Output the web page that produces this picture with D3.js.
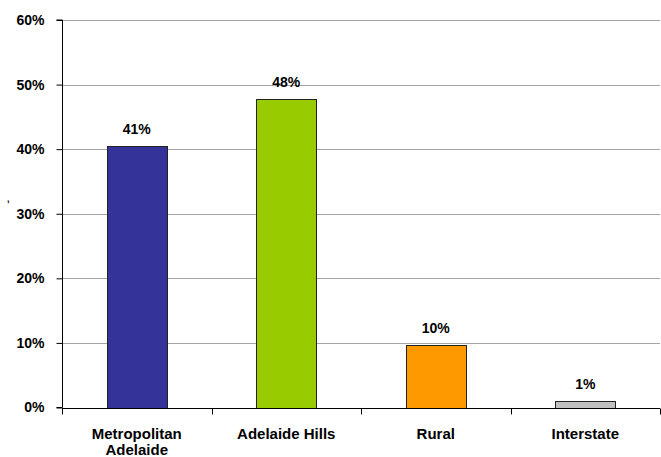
<!DOCTYPE html>
<html><head><meta charset="utf-8">
<script src="https://cdn.jsdelivr.net/npm/d3@7"></script>
<style>body{margin:0;background:#fff}svg{display:block}text{font-family:Arial,"Liberation Sans",sans-serif;font-weight:bold;fill:#000}</style>
</head><body><svg id="c" width="661" height="457"></svg>
<script>
const categories = [["Metropolitan","Adelaide"],["Adelaide Hills"],["Rural"],["Interstate"]];
const values = [40.5, 47.7, 9.7, 1.0];
const valueLabels = ["41%","48%","10%","1%"];
const colors = ["#333399","#99CC00","#FF9900","#C0C0C0"];
const yTicks = [0,10,20,30,40,50,60];

(function(){
const svg = d3.select("#c");
const mLeft = 62, mRight = 660, mTop = 20, mBottom = 407.5;
const x = d3.scaleBand().domain(d3.range(categories.length)).range([mLeft,mRight]).paddingInner(0).paddingOuter(0);
const y = d3.scaleLinear().domain([0,60]).range([mBottom,mTop]);

// gridlines
svg.append("g").selectAll("line").data(yTicks.filter(d=>d>0)).join("line")
  .attr("x1",mLeft).attr("x2",mRight).attr("y1",d=>Math.round(y(d))+0.5).attr("y2",d=>Math.round(y(d))+0.5)
  .attr("stroke","#a6a6a6").attr("stroke-width",1);

// bars
const bw = x.bandwidth()*0.4;
svg.append("g").selectAll("rect").data(values).join("rect")
  .attr("x",(d,i)=>Math.round(x(i)+x.bandwidth()/2-bw/2)+0.5)
  .attr("y",d=>Math.round(y(d))+0.5)
  .attr("width",Math.round(bw))
  .attr("height",d=>Math.round(y(0))-Math.round(y(d)))
  .attr("fill",(d,i)=>colors[i]).attr("stroke","#222").attr("stroke-width",1);

// value labels
svg.append("g").selectAll("text").data(values).join("text")
  .attr("x",(d,i)=>x(i)+x.bandwidth()/2).attr("y",d=>y(d)-12)
  .attr("text-anchor","middle").attr("font-size","14px").text((d,i)=>valueLabels[i]);

// y axis
const ya = svg.append("g").attr("transform",`translate(${mLeft+0.5},0)`)
  .call(d3.axisLeft(y).tickValues(yTicks).tickFormat(d=>d+"%").tickSize(6).tickPadding(12));
ya.select(".domain").attr("stroke","#000").attr("d",`M-6,${mTop}H0V${mBottom}H-6`);
ya.selectAll(".tick line").attr("stroke","#000");
ya.selectAll(".tick text").attr("font-size","14px").attr("font-family","Arial, 'Liberation Sans', sans-serif").attr("font-weight","bold").attr("fill","#000");

// x axis
const xa = svg.append("g").attr("transform",`translate(0,${Math.round(mBottom)+0.5})`);
xa.append("line").attr("x1",mLeft).attr("x2",mRight).attr("stroke","#000");
const bounds = d3.range(categories.length+1).map(i=> i<categories.length ? x(i) : mRight);
xa.selectAll("line.t").data(bounds).join("line").attr("class","t")
  .attr("x1",d=>Math.round(d)+0.5).attr("x2",d=>Math.round(d)+0.5).attr("y1",0).attr("y2",6).attr("stroke","#000");
const cl = xa.selectAll("text").data(categories).join("text")
  .attr("text-anchor","middle").attr("font-size","15px");
cl.each(function(lines,i){
  const t = d3.select(this);
  lines.forEach((ln,j)=>t.append("tspan").attr("x",x(i)+x.bandwidth()/2).attr("y",30+j*16).text(ln));
});

// tiny axis title mark
svg.append("text").attr("x",7).attr("y",202).attr("font-size","9px").text(",");
})();
</script></body></html>
